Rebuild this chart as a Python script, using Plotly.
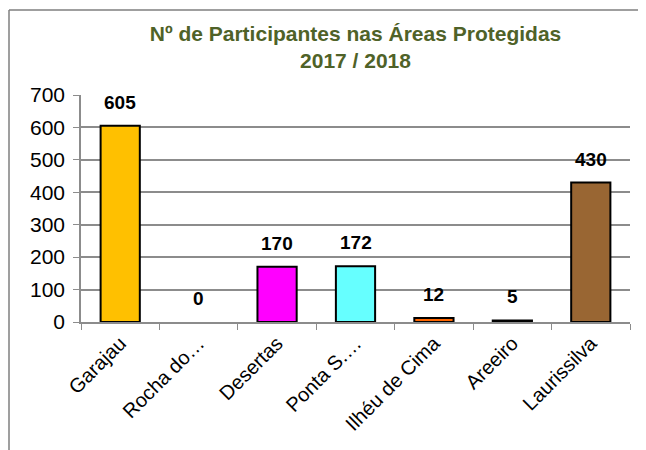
import plotly.graph_objects as go

areas = ["Garajau", "Rocha do…", "Desertas", "Ponta S.…", "Ilhéu de Cima", "Areeiro", "Laurissilva"]
participantes = [605, 0, 170, 172, 12, 5, 430]
cores = ["#FFC000", "#FFFFFF", "#FF00FF", "#66FFFF", "#FF6600", "#404040", "#996633"]
y_ticks = [0, 100, 200, 300, 400, 500, 600, 700]

# a página tem margem de 8px no body: coordenadas abaixo já descontam isso
W, H = 646, 450
ml, mr, mt, mb = 73, 24, 87, 136
pw, ph = W - ml - mr, H - mt - mb
fonte = "Liberation Sans, Arial"

fig = go.Figure()
fig.add_trace(go.Bar(
    x=areas, y=participantes,
    marker=dict(color=cores,
                line=dict(color="black", width=[0 if v == 0 else 2 for v in participantes])),
    hoverinfo="x+y",
))

for a, v in zip(areas, participantes):
    fig.add_annotation(x=a, y=v, text="<b>%d</b>" % v, showarrow=False,
                       yanchor="bottom", yshift=11,
                       font=dict(family=fonte, size=19, color="black"))

# moldura do gráfico (só topo e esquerda visíveis)
x0 = (1 - ml) / pw
y0 = 1 + (mt - 2) / ph
fig.add_shape(type="line", xref="paper", yref="paper", x0=x0, x1=(W + 5 - ml) / pw, y0=y0, y1=y0,
              line=dict(color="#7f7f7f", width=1.5))
fig.add_shape(type="line", xref="paper", yref="paper", x0=x0, x1=x0, y0=y0, y1=-(mb + 5) / ph,
              line=dict(color="#7f7f7f", width=1.5))

fig.update_layout(
    width=W, height=H,
    margin=dict(l=ml, r=mr, t=mt, b=mb, autoexpand=False),
    paper_bgcolor="white", plot_bgcolor="white",
    title=dict(text="<b>Nº de Participantes nas Áreas Protegidas<br>2017 / 2018</b>",
               x=347.5 / W, xanchor="center", y=1 - 33 / H, yanchor="top",
               font=dict(family=fonte, size=21, color="#4F6228")),
    bargap=0.5,
    showlegend=False,
    font=dict(family=fonte, color="black"),
)
fig.update_xaxes(
    tickangle=-45, tickfont=dict(size=20), automargin=False,
    showline=True, linecolor="#8c8c8c", linewidth=1.5,
    ticks="outside", tickson="boundaries", ticklen=6, tickcolor="#8c8c8c",
    showgrid=False,
)
fig.update_yaxes(
    range=[0, 700], tickvals=y_ticks, tickfont=dict(size=21), automargin=False,
    ticklabelstandoff=4,
    showgrid=True, gridcolor="#8c8c8c", gridwidth=1.5,
    showline=True, linecolor="#8c8c8c", linewidth=1.5,
    ticks="outside", ticklen=6, tickcolor="#8c8c8c",
    zeroline=False,
)

fig.write_html("out.html")
